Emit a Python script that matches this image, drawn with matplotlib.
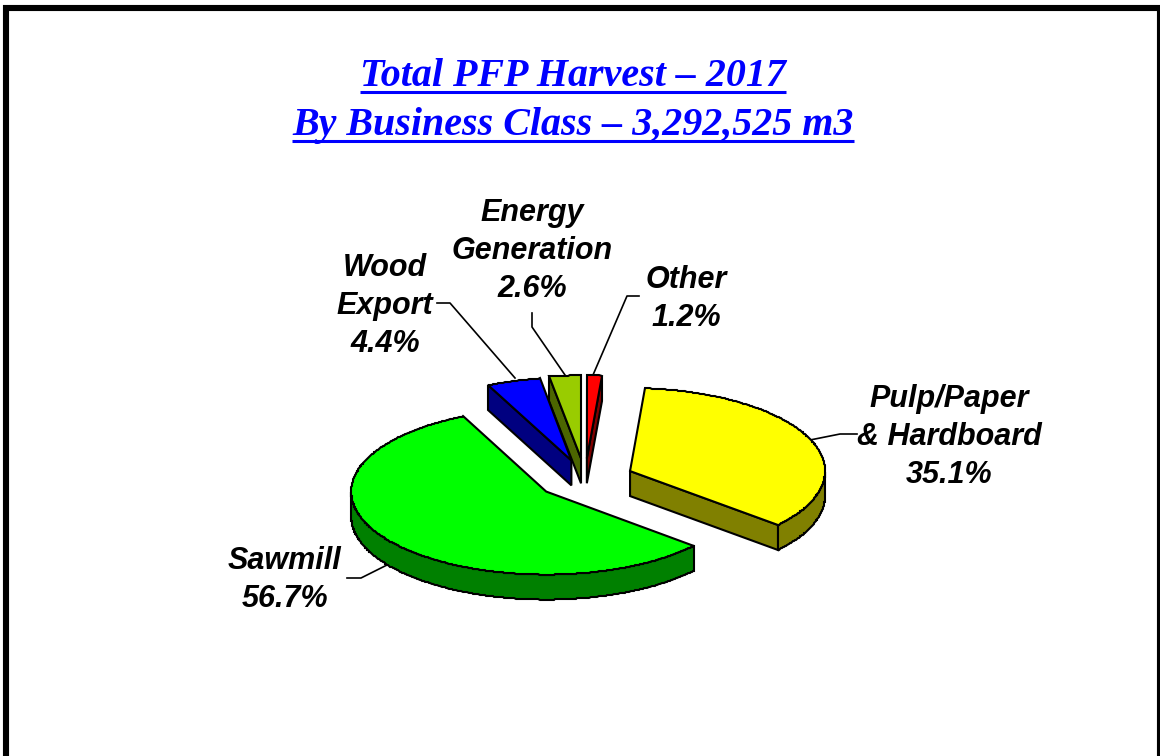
import numpy as np
import matplotlib
matplotlib.use('Agg')
import matplotlib.pyplot as plt
from matplotlib.patches import Polygon

# data
labels = ['Other', 'Pulp/Paper\n& Hardboard', 'Sawmill', 'Wood\nExport', 'Energy\nGeneration']
values = [1.2, 35.1, 56.7, 4.4, 2.6]
top_colors = ['#FF0000', '#FFFF00', '#00FF00', '#0000FF', '#99CC00']
side_colors = ['#800000', '#808000', '#008000', '#000080', '#4C6600']
title_lines = ['Total PFP Harvest \u2013 2017', 'By Business Class \u2013 3,292,525 m3']

# pie shape in pixels
cx, cy = 585, 479
rx, ry = 195, 83
depth = 25
explode = [0.25, 0.25, 0.25, 0.235, 0.25]

fig = plt.figure(figsize=(11.6, 7.56), dpi=100)
ax = fig.add_axes([0, 0, 1, 1])
ax.set_xlim(0, 1160)
ax.set_ylim(756, 0)
ax.axis('off')


def pt(th, ox, oy, r=1.0):
    return ox + r * rx * np.cos(th), oy - r * ry * np.sin(th)


def draw_slice(a0, a1, top, side, ex):
    # a0 > a1, running clockwise, angles in degrees
    mid = np.radians((a0 + a1) / 2)
    ox, oy = pt(mid, cx, cy, ex)
    t0, t1 = np.radians(a0), np.radians(a1)
    # rim snapped to whole pixels, the source chart has a slightly rough outline
    n = max(2, int((a0 - a1) * 2))
    th = np.linspace(t0, t1, n)
    xs, ys = pt(th, ox, oy)
    xs, ys = np.round(xs), np.round(ys)
    # cut faces that look towards the viewer
    for i, normal in ((0, t0 + np.pi / 2), (-1, t1 - np.pi / 2)):
        if np.sin(normal) < -1e-6:
            ax.add_patch(Polygon([(ox, oy), (xs[i], ys[i]), (xs[i], ys[i] + depth), (ox, oy + depth)],
                                 fc=side, ec='black', lw=1.5, zorder=2))
    # outer wall, lower half of the ellipse only
    low = np.sin(th) <= 0
    if low.sum() > 1:
        wx, wy = xs[low], ys[low]
        wall = list(zip(wx, wy)) + list(zip(wx[::-1], wy[::-1] + depth))
        ax.add_patch(Polygon(wall, fc=side, ec='black', lw=1.5, zorder=2))
    # top
    ax.add_patch(Polygon([(ox, oy)] + list(zip(xs, ys)), fc=top, ec='black', lw=1.5, zorder=3))


start = 90.0
for v, tc, sc, ex in zip(values, top_colors, side_colors, explode):
    end = start - v * 3.6
    draw_slice(start, end, tc, sc, ex)
    start = end

# frame, no line along the bottom
frame = dict(color='black', lw=4.4, solid_capstyle='butt', zorder=5)
ax.plot([6, 6], [5, 756], **frame)
ax.plot([1160, 1160], [5, 756], **frame)
ax.plot([3, 1160], [8, 8], **frame)

# title with underline
title_font = dict(family='Liberation Serif', weight='bold', style='italic', size=28.8, color='#0000FF')
for s, y in zip(title_lines, [86, 135]):
    t = ax.text(573, y, s, ha='center', va='baseline', **title_font)
    bb = t.get_window_extent(fig.canvas.get_renderer())
    ax.plot([bb.x0, bb.x1], [y + 6, y + 6], color='#0000FF', lw=2.2, solid_capstyle='butt')

# slice labels
label_pos = [(686, 299), (949, 437), (285, 580), (385, 306), (532, 251)]
for lab, v, (x, y) in zip(labels, values, label_pos):
    ax.text(x, y, f'{lab}\n{v}%', ha='center', va='center', linespacing=1.36,
            family='Liberation Sans', weight='bold', style='italic', size=22, color='black')

# leader lines
leaders = [
    ([639, 627, 593], [296, 296, 375]),
    ([857, 840, 810], [434, 434, 440]),
    ([347, 361, 389], [578, 578, 564]),
    ([437, 450, 515], [303, 303, 378]),
    ([532, 532, 565], [313, 327, 375]),
]
for xs, ys in leaders:
    ax.plot(xs, ys, color='black', lw=1.2, zorder=1)

fig.savefig('out.png', dpi=100)
